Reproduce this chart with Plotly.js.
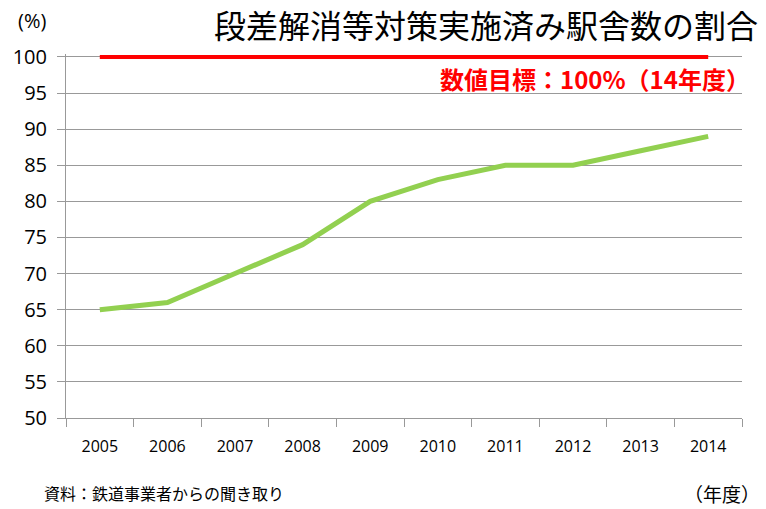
<!DOCTYPE html>
<html>
<head>
<meta charset="utf-8">
<script src="https://cdn.plot.ly/plotly-3.0.1.min.js"></script>
<style>html,body{margin:0;padding:0;background:#fff;}#chart{width:766px;height:509px;}</style>
</head>
<body>
<div id="chart"></div>
<script>
const years = ["2005","2006","2007","2008","2009","2010","2011","2012","2013","2014"];
const ratio = [65, 66, 70, 74, 80, 83, 85, 85, 87, 89];
const target = [100, 100, 100, 100, 100, 100, 100, 100, 100, 100];
const yTicks = [50, 55, 60, 65, 70, 75, 80, 85, 90, 95, 100];

const cjk = '"Noto Sans CJK JP", "Noto Sans", sans-serif';
const traces = [
  {x: years, y: target, type: 'scatter', mode: 'lines', line: {color: '#ff0000', width: 4}, hoverinfo: 'skip'},
  {x: years, y: ratio, type: 'scatter', mode: 'lines', line: {color: '#92d050', width: 5}}
];
const layout = {
  width: 766, height: 509,
  margin: {l: 66, r: 24, t: 54, b: 91},
  paper_bgcolor: '#ffffff', plot_bgcolor: '#ffffff',
  showlegend: false,
  title: {text: '段差解消等対策実施済み駅舎数の割合', x: 0.9896, xanchor: 'right', y: 0.947, yanchor: 'middle',
          font: {family: cjk, size: 32, color: '#000'}},
  xaxis: {type: 'category', range: [-0.5, 9.5], tickson: 'boundaries', ticks: 'outside', ticklen: 8, tickcolor: '#999',
          showline: true, linecolor: '#999', linewidth: 1, showgrid: false,
          tickfont: {family: '"Open Sans", sans-serif', size: 16, color: '#000'},
          ticklabelstandoff: 14, fixedrange: true},
  yaxis: {range: [50, 100.4], tickvals: yTicks, ticks: 'outside', ticklen: 8, tickcolor: '#999',
          showline: true, linecolor: '#999', showgrid: true, gridcolor: '#999', gridwidth: 1, zeroline: false,
          tickfont: {family: '"Open Sans", sans-serif', size: 20, color: '#000'}, ticklabelstandoff: 6, fixedrange: true},
  annotations: [
    {text: '(%)', xref: 'paper', yref: 'paper', x: -0.0503, y: (418-20)/364, xanchor: 'center', yanchor: 'middle', showarrow: false,
     font: {family: '"Open Sans", sans-serif', size: 20, color: '#000'}},
    {text: '<b>数値目標：100%（14年度）</b>', xref: 'paper', yref: 'paper', x: 1.0148, y: (418-78)/364, xanchor: 'right', yanchor: 'middle', showarrow: false,
     font: {family: cjk, size: 24, color: '#ff0000'}},
    {text: '（年度）', xref: 'paper', yref: 'paper', x: 1.0296, y: (418-493)/364, xanchor: 'right', yanchor: 'middle', showarrow: false,
     font: {family: cjk, size: 19, color: '#000'}},
    {text: '資料：鉄道事業者からの聞き取り', xref: 'paper', yref: 'paper', x: (42-66)/676, y: (418-507)/364, xanchor: 'left', yanchor: 'bottom', showarrow: false,
     font: {family: cjk, size: 16, color: '#000'}}
  ]
};
Plotly.newPlot('chart', traces, layout, {displayModeBar: false, staticPlot: true});
</script>
</body>
</html>
